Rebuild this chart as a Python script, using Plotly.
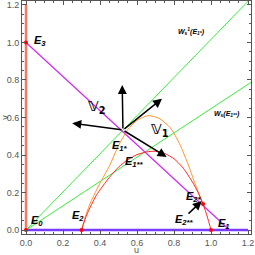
import plotly.graph_objects as go

# ---- data ----
axis_u_line = [0.0, 0.0]
axis_v_line = [0.0, 1.2]
base_u = [0.0, 1.2]
base_v = [0.0, 0.0]
magenta_u = [0.0, 1.1]
magenta_v = [1.0, 0.0]
green1_u = [0.0, 1.22]
green1_v = [0.0, 1.24]
green2_u = [0.0, 1.22]
green2_v = [0.0, 0.79]
orange_u = [0.30, 0.32, 0.35, 0.40, 0.45, 0.50, 0.55, 0.60, 0.66, 0.72, 0.78, 0.83, 0.88, 0.92, 0.957]
orange_v = [0.0, 0.07, 0.15, 0.25, 0.34, 0.45, 0.535, 0.585, 0.61, 0.595, 0.545, 0.46, 0.34, 0.23, 0.139]
red_u = [0.30, 0.33, 0.38, 0.45, 0.50, 0.55, 0.60, 0.654, 0.70, 0.75, 0.80, 0.85, 0.90, 0.93, 0.957, 0.98, 1.0]
red_v = [0.0, 0.085, 0.185, 0.28, 0.335, 0.375, 0.402, 0.417, 0.42, 0.408, 0.38, 0.33, 0.255, 0.20, 0.139, 0.07, 0.0]
pts_u = [0.0, 0.0, 0.30, 0.957, 1.0]
pts_v = [1.0, 0.0, 0.0, 0.139, 0.0]

# arrows: tail -> tip
arr_tail_u = [0.524, 0.524, 0.524, 0.524, 0.87]
arr_tail_v = [0.533, 0.533, 0.533, 0.533, 0.08]
arr_tip_u = [0.52, 0.25, 0.735, 0.76, 0.95]
arr_tip_v = [0.773, 0.57, 0.70, 0.39, 0.155]

labels = ["<b><i>E<sub>3</sub></i></b>", "<b><i>E<sub>0</sub></i></b>", "<b><i>E<sub>2</sub></i></b>",
          "<b><i>E<sub>1*</sub></i></b>", "<b><i>E<sub>1**</sub></i></b>", "<b><i>E<sub>2*</sub></i></b>",
          "<b><i>E<sub>2**</sub></i></b>", "<b><i>E<sub>1</sub></i></b>"]
label_u = [0.076, 0.06, 0.28, 0.508, 0.589, 0.908, 0.854, 1.07]
label_v = [1.008, 0.048, 0.075, 0.448, 0.363, 0.176, 0.053, 0.032]

big_labels = ["<b>\U0001D54D<sub>2</sub></b>", "<b>\U0001D54D<sub>1</sub></b>"]
big_u = [0.384, 0.724]
big_v = [0.656, 0.533]

small_labels = ["<b><i>W<sub>s</sub><sup>1</sup>(E<sub>1*</sub>)</i></b>", "<b><i>W<sub>s</sub>(E<sub>1**</sub>)</i></b>"]
small_u = [0.897, 1.086]
small_v = [1.056, 0.619]

fig = go.Figure()
fig.add_trace(go.Scatter(x=base_u, y=base_v, mode="lines", line=dict(color="rgb(120,60,255)", width=2.5)))
fig.add_trace(go.Scatter(x=axis_u_line, y=axis_v_line, mode="lines", line=dict(color="rgb(245,120,100)", width=2.5)))
fig.add_trace(go.Scatter(x=green1_u, y=green1_v, mode="lines", line=dict(color="rgb(60,235,60)", width=1)))
fig.add_trace(go.Scatter(x=green2_u, y=green2_v, mode="lines", line=dict(color="rgb(60,235,60)", width=1)))
fig.add_trace(go.Scatter(x=magenta_u, y=magenta_v, mode="lines", line=dict(color="rgb(210,40,240)", width=1.2)))
fig.add_trace(go.Scatter(x=orange_u, y=orange_v, mode="lines", line=dict(color="rgb(255,150,40)", width=1, shape="spline", smoothing=0.6)))
fig.add_trace(go.Scatter(x=red_u, y=red_v, mode="lines", line=dict(color="rgb(255,40,40)", width=1, shape="spline", smoothing=0.6)))
fig.add_trace(go.Scatter(x=pts_u, y=pts_v, mode="markers", marker=dict(color="red", size=4)))

ann = []
for tu, tv, hu, hv in zip(arr_tail_u, arr_tail_v, arr_tip_u, arr_tip_v):
    ann.append(dict(x=hu, y=hv, ax=tu, ay=tv, xref="x", yref="y", axref="x", ayref="y",
                    showarrow=True, arrowhead=2, arrowsize=1.2, arrowwidth=1.5, arrowcolor="black", text=""))
for t, u, v in zip(labels, label_u, label_v):
    ann.append(dict(x=u, y=v, text=t, showarrow=False, font=dict(size=11, color="black", family="Liberation Sans")))
for t, u, v in zip(big_labels, big_u, big_v):
    ann.append(dict(x=u, y=v, text=t, showarrow=False, font=dict(size=14, color="black", family="DejaVu Sans")))
for t, u, v in zip(small_labels, small_u, small_v):
    ann.append(dict(x=u, y=v, text=t, showarrow=False, font=dict(size=7, color="black", family="Liberation Sans")))

axis_common = dict(showgrid=False, zeroline=False, showline=True, linecolor="#555", linewidth=1,
                   mirror="ticks", ticks="inside", ticklen=4, tickwidth=1, tickcolor="#555",
                   tickfont=dict(size=9, color="#555", family="Liberation Sans"), tickformat=".1f",
                   automargin=False,
                   minor=dict(ticks="inside", ticklen=2, tickcolor="#555", dtick=0.05))
fig.update_layout(
    width=255, height=255, margin=dict(l=22, r=4, t=1, b=21),
    plot_bgcolor="white", paper_bgcolor="white", showlegend=False,
    annotations=ann,
    xaxis=dict(range=[-0.0216, 1.216], dtick=0.2, tick0=0,
               title=dict(text="u", font=dict(size=9, color="#555", family="Liberation Sans"), standoff=2), **axis_common),
    yaxis=dict(range=[-0.021, 1.221], dtick=0.2, tick0=0,
               title=dict(text="v", font=dict(size=9, color="#555", family="Liberation Sans"), standoff=0), **axis_common),
)
fig.write_html("out.html", config={"displayModeBar": False},
               post_script="document.body.style.margin='0';document.body.style.overflow='hidden';")
